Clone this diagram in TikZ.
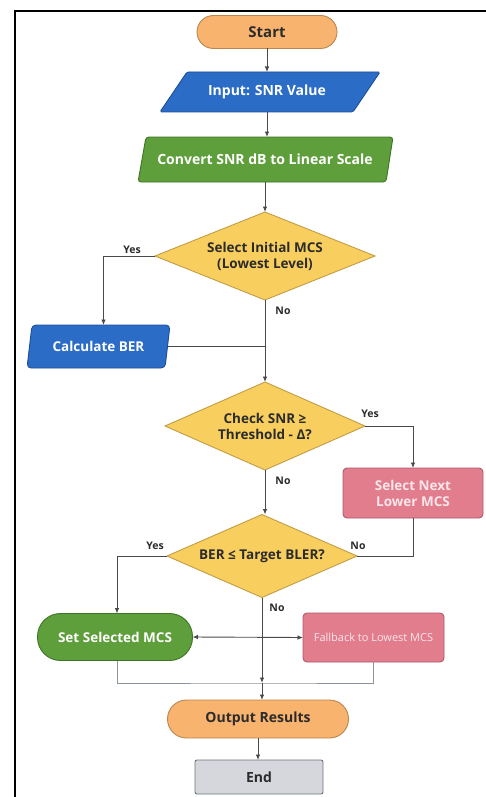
\documentclass[tikz,border=0pt]{standalone}
\usepackage{fontspec}
\setmainfont{Open Sans}
\usetikzlibrary{shapes.geometric,arrows.meta,calc}
\definecolor{orF}{HTML}{F8B36F}
\definecolor{orD}{HTML}{B9864F}
\definecolor{blF}{HTML}{2B6CC6}
\definecolor{blD}{HTML}{1C4E98}
\definecolor{grF}{HTML}{5E9F3B}
\definecolor{grD}{HTML}{3D7427}
\definecolor{yeF}{HTML}{F8CE5E}
\definecolor{yeD}{HTML}{C29D45}
\definecolor{piF}{HTML}{E27D8D}
\definecolor{piD}{HTML}{AE5867}
\definecolor{gyF}{HTML}{D5D7DC}
\definecolor{gyD}{HTML}{6E737A}
\definecolor{ln}{HTML}{4A4A4A}
\definecolor{mln}{HTML}{8C939B}
\definecolor{tx}{HTML}{2B2B2B}
\definecolor{pt}{HTML}{FBE6EA}
\begin{document}
\begin{tikzpicture}[x=1pt,y=-1pt,
  every node/.style={inner sep=0pt, outer sep=0pt, font=\bfseries\fontsize{13.5}{16}\selectfont, align=center},
  term/.style={draw=orD, fill=orF, line width=0.9pt, text=tx},
  dia/.style={diamond, aspect=2.5, draw=yeD, fill=yeF, line width=0.9pt, text=tx},
  pinkbox/.style={draw=piD, fill=piF, line width=0.9pt, rounded corners=4pt, text=pt},
  tip/.style={-{Latex[length=5.5pt,width=4.5pt]}},
  arr/.style={draw=ln, line width=0.9pt, tip},
  plain/.style={draw=ln, line width=0.9pt},
  lbl/.style={font=\bfseries\fontsize{10.5}{12}\selectfont, text=tx}
]
\useasboundingbox (0,0) rectangle (486,797);
\draw[line width=1.2pt, black] (486,11) -- (15,11) -- (15,797);

% Start
\node[term, rounded corners=16.5pt, minimum width=140, minimum height=33, font=\bfseries\fontsize{15}{17}\selectfont] (start) at (267,32) {Start};

% Input (parallelogram)
\filldraw[draw=blD, fill=blF, line width=0.9pt, rounded corners=1.5pt] (187,72) -- (380,72) -- (353,112) -- (160,112) -- cycle;
\node[text=white, minimum width=150, minimum height=40, font=\bfseries\fontsize{14}{16}\selectfont] (in) at (267,92) {Input: SNR Value};

% Convert
\filldraw[draw=grD, fill=grF, line width=0.9pt, rounded corners=3pt] (146,137) -- (393,137) -- (386,182) -- (138,182) -- cycle;
\node[text=white, minimum width=200, minimum height=45, font=\bfseries\fontsize{14}{16}\selectfont] (cv) at (265,159.5) {Convert SNR dB to Linear Scale};

% Decision 1
\node[dia, minimum width=220, minimum height=88] (d1) at (265,256) {Select Initial MCS\\(Lowest Level)};

% Calculate BER
\filldraw[draw=blD, fill=blF, line width=0.9pt, rounded corners=4pt] (32,325) -- (170,325) -- (165,368) -- (27,368) -- cycle;
\node[text=white, minimum width=138, minimum height=43] (calc) at (98.5,346.5) {Calculate BER};

% Decision 2
\node[dia, minimum width=200, minimum height=88] (d2) at (265,426) {Check SNR ≥\\Threshold - Δ?};

% Select next lower
\node[pinkbox, minimum width=140, minimum height=50] (sel) at (413,493) {Select Next\\Lower MCS};

% Decision 3
\node[dia, minimum width=190, minimum height=83] (d3) at (262,556) {BER ≤ Target BLER?};

% Set selected
\node[draw=grD, fill=grF, line width=0.9pt, rounded corners=23pt, text=white, minimum width=155, minimum height=47] (ss) at (115,637) {Set Selected MCS};

% Fallback
\node[pinkbox, minimum width=141, minimum height=49, font=\fontsize{11}{13}\selectfont] (fb) at (373.5,637.5) {Fallback to Lowest MCS};

% Output
\node[term, rounded corners=19pt, minimum width=181, minimum height=38, font=\bfseries\fontsize{14}{16}\selectfont] (out) at (258,719) {Output Results};

% End
\node[draw=gyD, fill=gyF, line width=0.9pt, rounded corners=2pt, text=tx, minimum width=128, minimum height=34, font=\bfseries\fontsize{14}{16}\selectfont] (end) at (259,777) {End};

\coordinate (j) at (262,683);

% connectors
\draw[arr] (start.south) -- (in.north);
\draw[arr] (in.south) -- (in.south |- cv.north);
\draw[arr] (cv.south) -- (d1.north);
\draw[arr] (d1.west) -| ($(calc.north)+(5,0)$);
\draw[plain] (calc.east) -- (calc.east -| d1.south);
\draw[arr] (d1.south) -- (d2.north);
\draw[arr] (d2.east) -| (sel.north);
\draw[plain] (sel.south) |- (d3.east);
\draw[arr] (d2.south) -- (d2.south |- d3.north);
\draw[arr] (d3.west) -| ($(ss.north)+(2,0)$);
\draw[draw=ln, line width=0.9pt, {Latex[length=5.5pt,width=4.5pt]}-{Latex[length=5.5pt,width=4.5pt]}] (ss.east) -- (fb.west);
\draw[draw=mln, line width=1pt] ($(ss.south)+(2,0)$) |- (j) -| (fb.south);
\draw[arr] (d3.south) -- (j);
\draw[arr] (j) -- (j |- out.north);
\draw[arr] (out.south) -- (out.south |- end.north);

% labels
\node[lbl] (y1) at (132,250) {Yes};
\node[lbl] (n1) at (283,311) {No};
\node[lbl] (y2) at (370,414) {Yes};
\node[lbl] (n2) at (283,481) {No};
\node[lbl] (n3) at (358,546) {No};
\node[lbl] (y3) at (155,546) {Yes};
\node[lbl] (n4) at (277,608) {No};
\end{tikzpicture}
\end{document}
